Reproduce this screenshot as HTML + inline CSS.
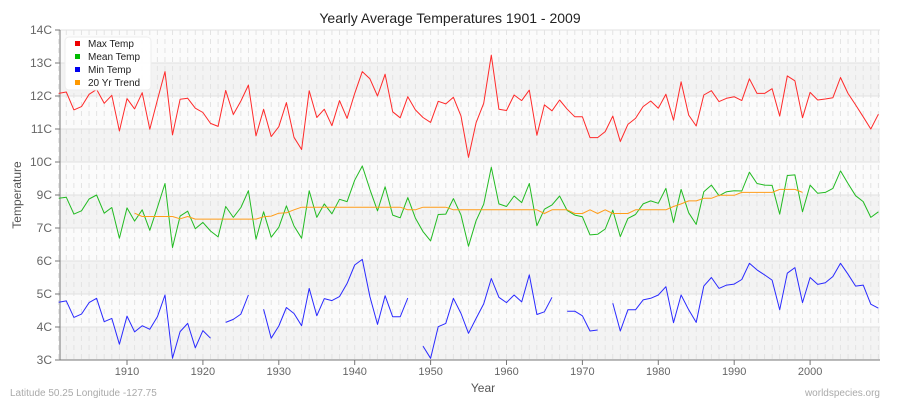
<!DOCTYPE html>
<html><head><meta charset="utf-8"><style>
body{margin:0;background:#fff;}
svg{display:block;font-family:"Liberation Sans",sans-serif;}
</style></head><body>
<svg id="chart" width="900" height="400" xmlns="http://www.w3.org/2000/svg">
<text x="450" y="23" text-anchor="middle" font-size="14" fill="#222">Yearly Average Temperatures 1901 - 2009</text>
<text x="21" y="195" text-anchor="middle" font-size="12" fill="#555" transform="rotate(-90 21 195)">Temperature</text>
<text x="483" y="392" text-anchor="middle" font-size="12" fill="#555">Year</text>
<text x="10" y="396" font-size="10" fill="#aaa">Latitude 50.25 Longitude -127.75</text>
<text x="880" y="396" text-anchor="end" font-size="10" fill="#aaa">worldspecies.org</text>
<g id="bg"></g><g id="grid"></g><g id="axes"></g><g id="series"></g>
<g>
<rect x="65" y="37" width="86" height="53" rx="4" fill="#fff" fill-opacity="0.95" stroke="#eee"/>
<g><rect x="75" y="41" width="5" height="5" fill="#ee0000"/><text x="88" y="47" font-size="10" fill="#222">Max Temp</text></g>
<g><rect x="75" y="54" width="5" height="5" fill="#00bb00"/><text x="88" y="60" font-size="10" fill="#222">Mean Temp</text></g>
<g><rect x="75" y="67" width="5" height="5" fill="#0000ee"/><text x="88" y="73" font-size="10" fill="#222">Min Temp</text></g>
<g><rect x="75" y="80" width="5" height="5" fill="#ff9900"/><text x="88" y="86" font-size="10" fill="#222">20 Yr Trend</text></g>
</g>
</svg>
<script>
const startYear = 1901;
const endYear = 2009;
const yTickLabels = ["14C","13C","12C","11C","10C","9C","7C","6C","5C","4C","3C"];
const xTickLabels = [1910,1920,1930,1940,1950,1960,1970,1980,1990,2000];
const maxTemp = [12.08,12.12,11.58,11.68,12.05,12.2,11.78,12.02,10.94,11.92,
11.61,12.1,10.99,11.88,12.74,10.82,11.9,11.93,11.63,11.5,
11.17,11.08,12.17,11.44,11.85,12.33,10.79,11.6,10.77,11.07,
11.8,10.75,10.38,12.16,11.35,11.6,11.1,11.86,11.32,12.08,
12.74,12.52,12.0,12.66,11.52,11.34,11.98,11.58,11.35,11.2,
11.84,11.76,11.96,11.39,10.14,11.19,11.78,13.24,11.6,11.56,
12.03,11.86,12.18,10.81,11.73,11.55,11.88,11.6,11.37,11.37,
10.74,10.74,10.92,11.39,10.62,11.14,11.32,11.68,11.85,11.63,
12.05,11.27,12.43,11.42,11.09,12.03,12.16,11.83,11.93,11.98,
11.86,12.52,12.08,12.08,12.22,11.39,12.61,12.46,11.34,12.11,
11.88,11.91,11.95,12.56,12.08,11.73,11.37,11.0,11.45];
const meanTemp = [8.9,8.93,8.42,8.52,8.88,9.0,8.45,8.62,7.69,8.61,
8.21,8.55,7.93,8.62,9.35,7.41,8.36,8.51,7.98,8.17,
7.91,7.73,8.65,8.32,8.62,9.13,7.66,8.49,7.72,8.02,
8.67,8.06,7.69,9.13,8.32,8.73,8.43,8.87,8.8,9.45,
9.88,9.17,8.52,9.25,8.39,8.31,8.92,8.3,7.89,7.61,
8.41,8.42,8.89,8.39,7.45,8.22,8.72,9.84,8.73,8.65,
8.97,8.77,9.35,8.07,8.57,8.7,8.97,8.53,8.39,8.34,
7.79,7.81,7.97,8.54,7.74,8.29,8.41,8.73,8.82,8.75,
9.2,8.17,9.17,8.46,8.11,9.1,9.3,8.98,9.1,9.13,
9.12,9.69,9.35,9.3,9.29,8.42,9.59,9.61,8.49,9.3,
9.05,9.08,9.2,9.73,9.35,8.98,8.8,8.32,8.49];
const minTemp = [5.75,5.79,5.29,5.39,5.74,5.87,5.16,5.26,4.48,5.33,
4.85,5.04,4.93,5.31,5.97,4.05,4.86,5.11,4.37,4.89,
4.66,null,5.14,5.23,5.39,5.97,null,5.54,4.66,5.03,
5.59,5.41,5.04,6.17,5.34,5.86,5.8,5.92,6.32,6.88,
7.05,5.92,5.08,5.95,5.31,5.31,5.88,null,4.42,4.05,
5.01,5.11,5.87,5.41,4.81,5.26,5.7,6.47,5.9,5.74,
5.97,5.76,6.58,5.38,5.46,5.9,null,5.48,5.48,5.34,
4.88,4.91,null,5.72,4.88,5.52,5.52,5.82,5.87,5.97,
6.22,5.13,5.97,5.52,5.14,6.24,6.5,6.17,6.27,6.3,
6.44,6.93,6.73,6.58,6.42,5.52,6.63,6.8,5.74,6.5,
6.29,6.34,6.53,6.93,6.6,6.24,6.27,5.69,5.57];
const trendStart = 1911;
const trendTemp = [8.45,8.35,8.35,8.35,8.35,8.35,8.28,8.35,8.27,8.27,
8.27,8.27,8.27,8.27,8.27,8.27,8.27,8.34,8.36,8.45,
8.46,8.55,8.63,8.63,8.63,8.63,8.63,8.63,8.63,8.63,
8.63,8.63,8.63,8.63,8.63,8.63,8.55,8.55,8.63,8.63,
8.63,8.63,8.55,8.55,8.55,8.55,8.55,8.55,8.55,8.55,
8.55,8.55,8.55,8.55,8.44,8.55,8.55,8.55,8.44,8.44,
8.55,8.44,8.55,8.44,8.44,8.44,8.55,8.55,8.55,8.55,
8.55,8.65,8.73,8.82,8.82,8.9,8.9,8.99,8.99,8.99,
9.08,9.08,9.08,9.08,9.08,9.17,9.17,9.17,9.08];

const NS='http://www.w3.org/2000/svg';
const L=60,R=880,T=30,B=360,yTop=14,yBot=4;
const xs=yr=>58.7+(yr-startYear)*((878.4-58.7)/(endYear-startYear));
const ys=v=>T+(yTop-v)*(B-T)/(yTop-yBot);
function mk(tag,attrs,parent){const e=document.createElementNS(NS,tag);for(const k in attrs)e.setAttribute(k,attrs[k]);parent.appendChild(e);return e;}
const bg=document.getElementById('bg'),grid=document.getElementById('grid'),axes=document.getElementById('axes'),series=document.getElementById('series');
const step=(B-T)/(yTickLabels.length-1);
for(let i=0;i<yTickLabels.length-1;i++){
  const r=mk('rect',{x:L,y:T+i*step,width:R-L,height:step,fill:i%2?'#f3f3f3':'#fbfbfb'},bg);
  
  
}
for(let yr=startYear;yr<=endYear;yr++){
  const l=mk('line',{x1:xs(yr),x2:xs(yr),y1:T,y2:B,stroke:'#e3e3e3','stroke-width':1,'stroke-dasharray':'5,4'},grid);
  
  
}
yTickLabels.forEach((lab,i)=>{
  const y=T+i*step;
  const g=mk('line',{x1:L,x2:R,y1:y,y2:y,stroke:'#e2e2e2','stroke-width':1},grid);
  
  
  mk('line',{x1:L-5,x2:L,y1:y,y2:y,stroke:'#777'},axes);
  const t=mk('text',{x:L-8,y:y+4,'text-anchor':'end','font-size':12,fill:'#666'},axes);
  t.textContent=lab;
  
  
});
xTickLabels.forEach(yr=>{
  const x=xs(yr);
  mk('line',{x1:x,x2:x,y1:B,y2:B+5,stroke:'#777'},axes);
  const t=mk('text',{x:x,y:B+15,'text-anchor':'middle','font-size':11,fill:'#666'},axes);
  t.textContent=yr;
  
  
});
const ya=mk('line',{x1:L,x2:L,y1:T,y2:B,stroke:'#777'},axes);


const xa=mk('line',{x1:L,x2:R,y1:B,y2:B,stroke:'#777'},axes);


function drawSeries(vals,start,color,name){
  let d='',pen=false;
  vals.forEach((v,i)=>{
    if(v===null){pen=false;return;}
    d+=(pen?'L':'M')+xs(start+i).toFixed(1)+','+ys(v).toFixed(1);
    pen=true;
  });
  const p=mk('path',{d:d,fill:'none',stroke:color,'stroke-width':1,'stroke-linejoin':'round'},series);
  
  
}
drawSeries(maxTemp,startYear,'#ff2a2a','max-temp-line');
drawSeries(meanTemp,startYear,'#22bb22','mean-temp-line');
drawSeries(trendTemp,trendStart,'#ff9d1a','trend-line');
drawSeries(minTemp,startYear,'#2a2aff','min-temp-line');
</script>
</body></html>
